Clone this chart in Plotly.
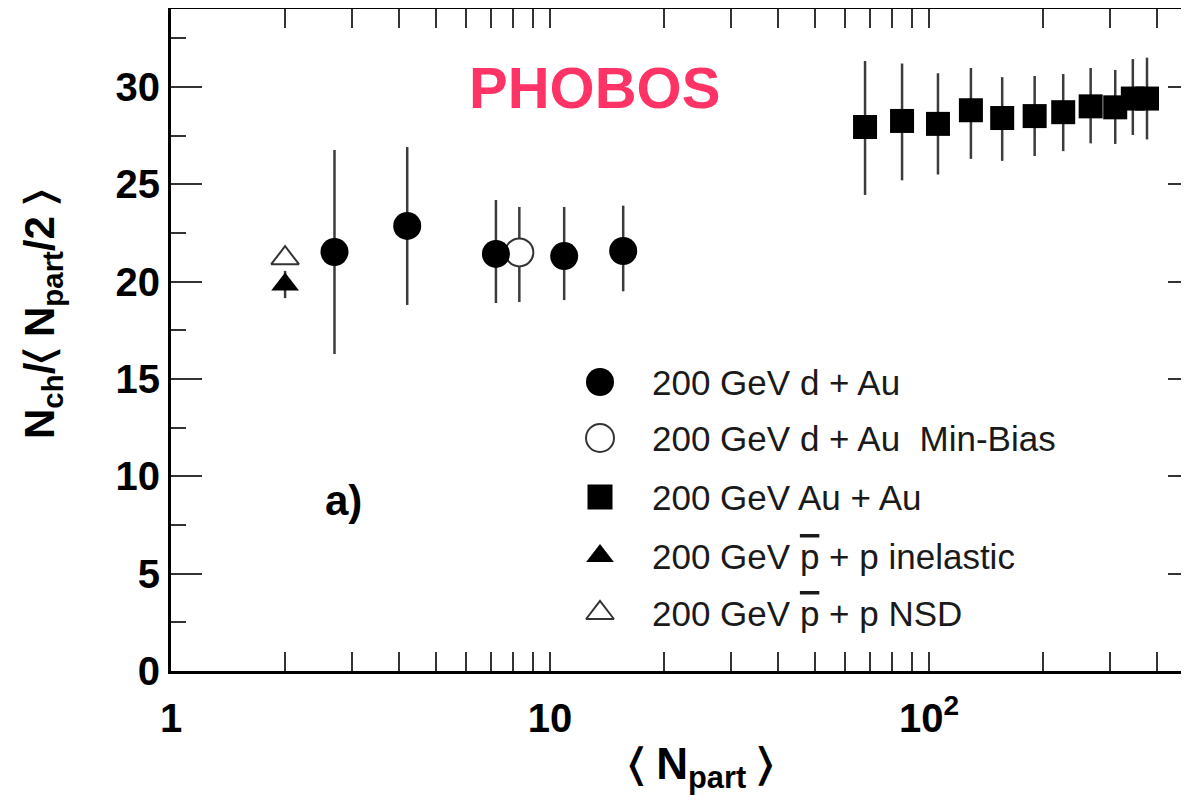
import plotly.graph_objects as go

# ---------------- data ----------------
dau_x = [2.7, 4.2, 7.2, 10.9, 15.6]
dau_y = [21.52, 22.86, 21.42, 21.31, 21.57]
dau_ep = [5.24, 4.05, 2.77, 2.52, 2.33]
dau_em = [5.24, 4.06, 2.52, 2.26, 2.07]

mb_x = [8.3]
mb_y = [21.5]
mb_ep = [2.33]
mb_em = [2.55]

auau_x = [67.8, 84.9, 105.6, 129, 156, 190, 226, 267, 310, 345, 376]
auau_y = [27.94, 28.25, 28.1, 28.8, 28.4, 28.5, 28.7, 29.0, 28.95, 29.4, 29.4]
auau_ep = [3.39, 2.95, 2.6, 2.17, 2.1, 2.06, 1.96, 1.97, 1.92, 2.03, 2.1]
auau_em = [3.49, 3.05, 2.6, 2.5, 2.2, 2.05, 2.0, 1.9, 1.88, 1.87, 2.1]

ppin_x = [2.0]
ppin_y = [19.85]
ppin_e = [0.7]

ppnsd_x = [2.0]
ppnsd_y = [21.2]

x_tickvals = [1, 10, 100]
x_ticktext = ["1", "10", "10<sup>2</sup>"]
x_minor = [2, 3, 4, 5, 6, 7, 8, 9, 20, 30, 40, 50, 60, 70, 80, 90, 200, 300, 400]
y_tickvals = [0, 5, 10, 15, 20, 25, 30]

legend_labels = [
    "200 GeV d + Au",
    "200 GeV d + Au  Min-Bias",
    "200 GeV Au + Au",
    "200 GeV <span style='text-decoration:overline'>p</span> + p inelastic",
    "200 GeV <span style='text-decoration:overline'>p</span> + p NSD",
]
legend_symbols = ["circle", "circle", "square", "triangle-up", "triangle-up"]
legend_fill = ["black", "white", "black", "black", "white"]
legend_line = ["black", "#333", "black", "black", "#333"]
legend_lw = [0, 2, 0, 0, 2]
legend_sizes = [28, 28, 25, 24, 24]

FONT = "Liberation Sans"
ERRC = "#3c3c3c"

fig = go.Figure()


def err(p, m):
    return dict(type="data", symmetric=False, array=p, arrayminus=m,
                color=ERRC, thickness=2.5, width=0)


fig.add_trace(go.Scatter(x=ppin_x, y=ppin_y, mode="markers",
                         error_y=dict(type="data", array=ppin_e, color=ERRC, thickness=2.5, width=0),
                         marker=dict(symbol="triangle-up", size=24, color="black",
                                     line=dict(width=0)), showlegend=False))
fig.add_trace(go.Scatter(x=ppnsd_x, y=ppnsd_y, mode="markers",
                         marker=dict(symbol="triangle-up", size=24, color="white",
                                     line=dict(width=2, color="#333")), showlegend=False))
fig.add_trace(go.Scatter(x=mb_x, y=mb_y, mode="markers", error_y=err(mb_ep, mb_em),
                         marker=dict(symbol="circle", size=28, color="white",
                                     line=dict(width=2, color="#333")), showlegend=False))
fig.add_trace(go.Scatter(x=dau_x, y=dau_y, mode="markers", error_y=err(dau_ep, dau_em),
                         marker=dict(symbol="circle", size=28, color="black",
                                     line=dict(width=0)), showlegend=False))
fig.add_trace(go.Scatter(x=auau_x, y=auau_y, mode="markers", error_y=err(auau_ep, auau_em),
                         marker=dict(symbol="square", size=24, color="black",
                                     line=dict(width=0)), showlegend=False))

# legend keys on an overlay axis (fractions of plot area)
leg_py = [382, 438, 497, 556, 613]
leg_y = [(671 - p) / 662 for p in leg_py]
leg_kx = (600 - 171) / 1018
leg_tx = (651 - 171) / 1018
fig.add_trace(go.Scatter(
    x=[leg_kx] * 5, y=leg_y, mode="markers", xaxis="x3", yaxis="y3",
    marker=dict(symbol=legend_symbols, size=legend_sizes, color=legend_fill,
                opacity=1, line=dict(width=legend_lw, color=legend_line)),
    showlegend=False, hoverinfo="skip"))

for lbl, yy in zip(legend_labels, leg_y):
    fig.add_annotation(xref="paper", yref="paper", x=leg_tx, y=yy, text=lbl,
                       showarrow=False, xanchor="left", yanchor="middle", borderpad=0,
                       font=dict(family=FONT, size=35, color="#1a1a1a"))

fig.add_annotation(xref="paper", yref="paper", x=(594 - 171) / 1018, y=(671 - 88) / 662,
                   text="PHOBOS", showarrow=False, xanchor="center", yanchor="middle",
                   font=dict(family=FONT, size=58, color="#ff3366", weight="bold"))
fig.add_annotation(xref="paper", yref="paper", x=(343 - 171) / 1018, y=(671 - 500) / 662,
                   text="a)", showarrow=False, xanchor="center", yanchor="middle",
                   font=dict(family=FONT, size=42, color="black", weight="bold"))
fig.add_annotation(xref="paper", yref="paper", x=(42 - 171) / 1018, y=(671 - 315) / 662,
                   text="N<sub>ch</sub>/\u2329 N<sub>part</sub>/2 \u232a", textangle=-90,
                   showarrow=False, xanchor="center", yanchor="middle",
                   font=dict(family=FONT, size=42, color="black", weight="bold"))
fig.add_annotation(xref="paper", yref="paper", x=(701 - 171) / 1018, y=(671 - 767) / 662,
                   text="\u2329 N<sub>part</sub> \u232a",
                   showarrow=False, xanchor="center", yanchor="middle",
                   font=dict(family=FONT, size=44, color="black", weight="bold"))

tickfont = dict(family=FONT, size=40, color="black", weight="bold")

# The page body has an 8px default margin: size the figure so that it fills
# the 1189x795 window exactly.
fig.update_layout(
    width=1181, height=787,
    margin=dict(l=163, r=0, t=1, b=124, autoexpand=False),
    paper_bgcolor="white", plot_bgcolor="white",
    showlegend=False,
    xaxis=dict(type="log", range=[0, 1018 / 379], showgrid=False, zeroline=False,
               automargin=False,
               showline=True, linewidth=3, linecolor="black", mirror="allticks",
               ticks="inside", ticklen=19, tickwidth=2, tickcolor="#333",
               tickvals=x_tickvals, ticktext=x_ticktext, tickfont=tickfont,
               ticklabelstandoff=10,
               minor=dict(ticks="inside", ticklen=10, tickwidth=2, tickcolor="#333",
                          tickvals=x_minor, showgrid=False)),
    yaxis=dict(range=[0, 34], showgrid=False, zeroline=False, automargin=False,
               showline=True, linewidth=3, linecolor="black", mirror=False,
               ticks="inside", ticklen=31, tickwidth=2, tickcolor="#333",
               tickvals=y_tickvals, tickfont=tickfont,
               minor=dict(ticks="inside", ticklen=15, tickwidth=2, tickcolor="#333",
                          dtick=2.5, showgrid=False)),
    yaxis2=dict(range=[0, 34], overlaying="y", side="right", anchor="x",
                automargin=False,
                showgrid=False, zeroline=False, showline=False, showticklabels=False,
                ticks="inside", ticklen=21, tickwidth=2, tickcolor="#333",
                tickvals=y_tickvals,
                minor=dict(ticks="inside", ticklen=4, tickwidth=2, tickcolor="#333",
                           dtick=2.5, showgrid=False)),
    xaxis3=dict(range=[0, 1], overlaying="x", visible=False, automargin=False),
    yaxis3=dict(range=[0, 1], overlaying="y", visible=False, automargin=False),
)

# dummy trace so yaxis2 is drawn
fig.add_trace(go.Scatter(x=[1], y=[None], yaxis="y2", showlegend=False, hoverinfo="skip"))

fig.write_html("out.html")
